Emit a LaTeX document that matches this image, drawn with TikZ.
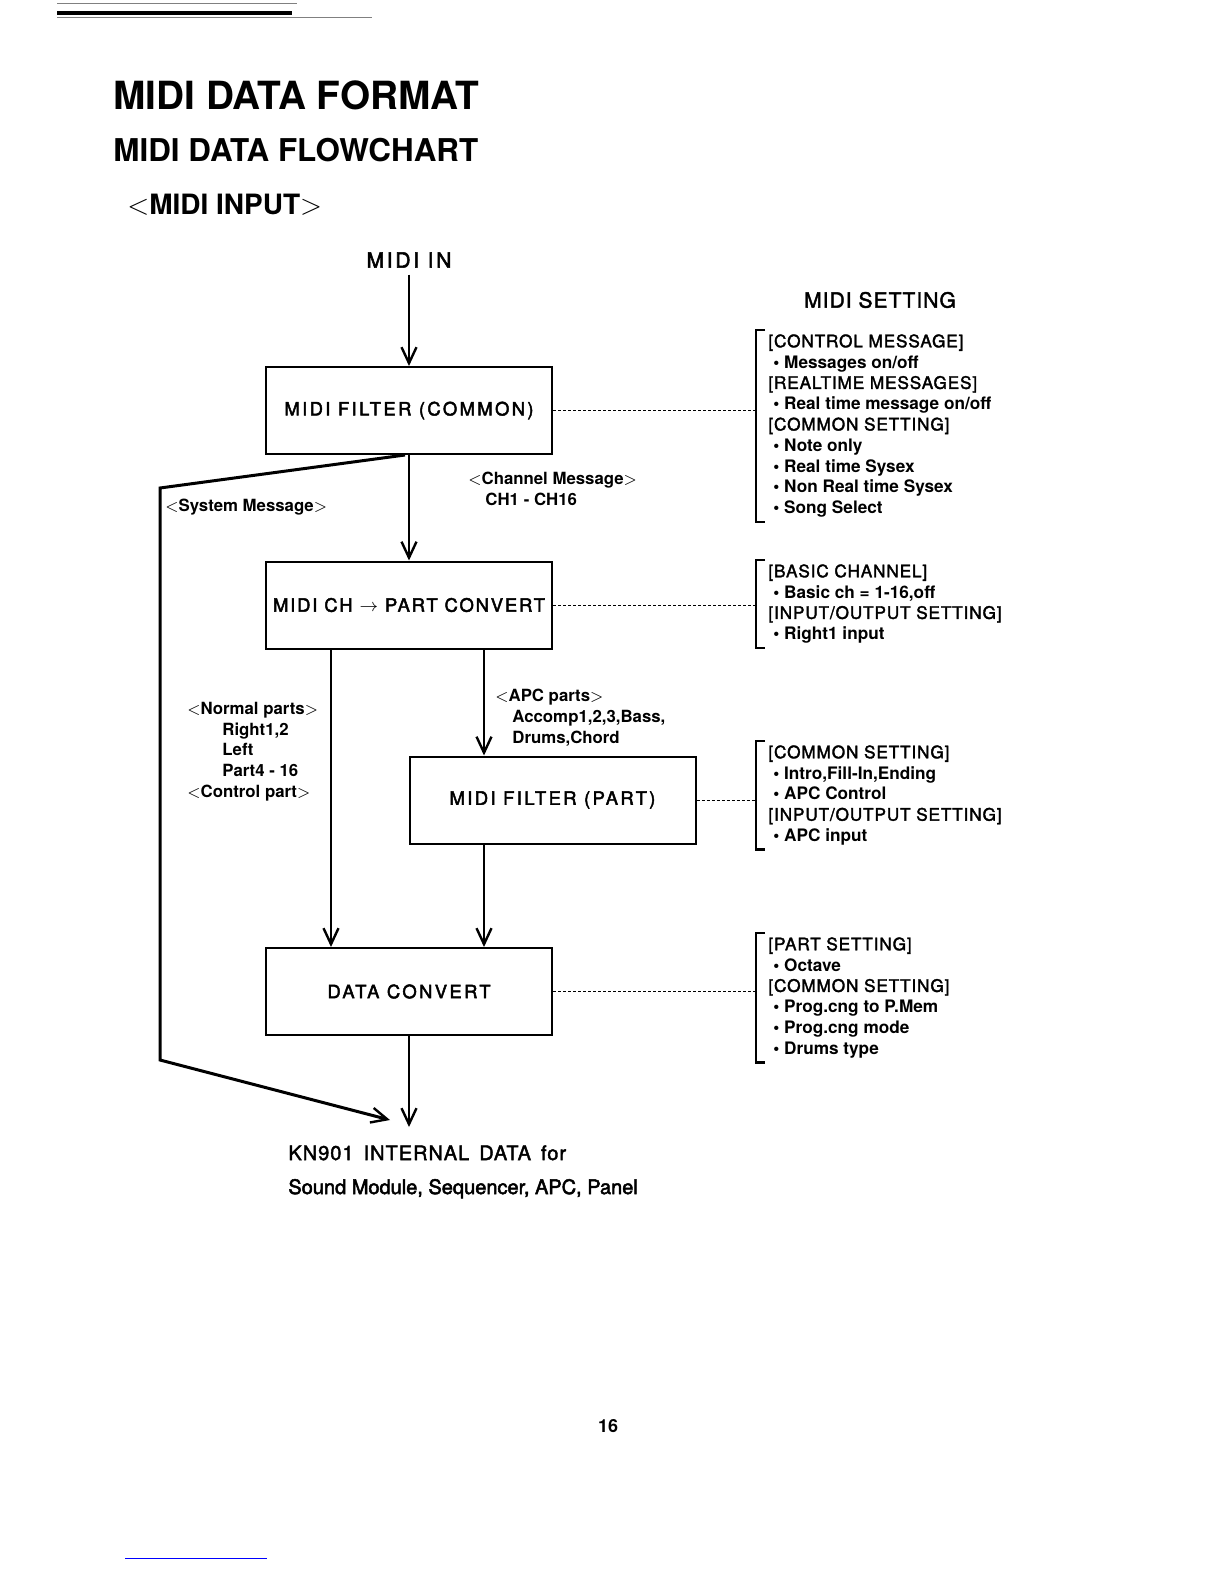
\documentclass[tikz,border=0pt]{standalone}
\usepackage{fontspec}
\setmainfont{TeX Gyre Heros}
\newfontfamily\boxfont{TeX Gyre Heros}[FakeBold=2.5, LetterSpace=13]
\newfontfamily\medfont{TeX Gyre Heros}[FakeBold=2.5]
\newfontfamily\hdfont{TeX Gyre Heros}[FakeBold=2, LetterSpace=5]
\usetikzlibrary{arrows.meta}
\newcommand{\itm}[1]{\hspace*{2.5pt}\textbf{\textbullet\ #1}}
\newcommand{\hd}[1]{{\hdfont[#1]}}

\begin{document}
\begin{tikzpicture}[x=0.5pt, y=-0.5pt,
    box/.style={draw, line width=1pt, minimum width=143pt, minimum height=43.5pt,
      inner sep=0pt, font=\boxfont\fontsize{9.2}{11}\selectfont},
    arr/.style={line width=1.3pt, -{Straight Barb[length=8pt,width=7.5pt,line width=1.2pt]}},
    dots/.style={line width=0.5pt, dash pattern=on 1.5pt off 1pt},
    brk/.style={line width=1.2pt},
    note/.style={anchor=north west, align=left, inner xsep=0pt, inner ysep=2pt,
      font=\fontsize{8.6}{10.4}\selectfont},
    lbl/.style={anchor=west, align=left, inner sep=0pt,
      font=\bfseries\fontsize{8.4}{10.4}\selectfont},
    head/.style={anchor=base west, inner sep=0pt},
  ]
  \useasboundingbox (0,0) rectangle (1224,1584);
  % page rule and titles
  \draw[line width=0.3pt, gray] (57,3) -- (297,3);
  \draw[line width=1.6pt] (57,13) -- (292,13);
  \draw[line width=0.3pt, gray] (57,17) -- (372,17);
  \node[head, font=\bfseries\fontsize{19.4}{22}\selectfont] (format) at (113,110) {MIDI DATA FORMAT};
  \node[head, font=\bfseries\fontsize{15.7}{18}\selectfont] (chart) at (113,162) {MIDI DATA FLOWCHART};
  \node[head, font=\bfseries\fontsize{14}{16}\selectfont] (input) at (127,214) {$<$MIDI INPUT$>$};

  % main boxes
  \node[box] (fcommon) at (409,410.5) {MIDI FILTER (COMMON)};
  \node[box, font=\boxfont\addfontfeatures{LetterSpace=10}\fontsize{9.2}{11}\selectfont]
    (chconv) at (409,605) {MIDI CH $\rightarrow$ PART CONVERT};
  \node[box] (fpart) at (552.5,800) {MIDI FILTER (PART)};
  \node[box] (dconv) at (409,991.5) {DATA CONVERT};
  \node[font=\boxfont\fontsize{10.5}{12}\selectfont] (midiin) at (409,260) {MIDI IN};
  \node[anchor=north west, align=left, inner sep=0pt,
    font=\medfont\fontsize{10}{17}\selectfont] (internal) at (288,1145)
    {{\hdfont KN901\enspace INTERNAL\enspace DATA\enspace for}\\Sound Module, Sequencer, APC, Panel};
  \node[font=\bfseries\fontsize{9}{11}\selectfont] (pgno) at (608,1426) {16};

  \coordinate (brx) at (756,0);
  \coordinate (nrm) at (331,0);
  \coordinate (apc) at (484,0);
  \coordinate (sysa) at (160,488);
  \coordinate (sysb) at (160,1060);
  \coordinate (sysend) at (390,1120);
  \coordinate (outend) at (405,1127);

  % data flow
  \draw[arr] (midiin) -- (fcommon);
  \draw[arr] (fcommon) -- (chconv);
  \draw[arr] (chconv.south -| nrm) -- (dconv.north -| nrm);
  \draw[arr] (chconv.south -| apc) -- (fpart.north -| apc);
  \draw[arr] (fpart.south -| apc) -- (dconv.north -| apc);
  \draw[arr] (dconv.south) -- (dconv.south |- outend);
  \draw[arr, line width=1.5pt] ([xshift=-2pt]fcommon.south) -- (sysa) -- (sysb) -- (sysend);

  \node[lbl] (sysmsg) at (165,507) {$<$System Message$>$};
  \node[lbl] (chmsg) at (468,488.5) {$<$Channel Message$>$\\\hspace*{8.5pt}CH1 - CH16};
  \node[lbl] (normal) at (187,751.5) {$<$Normal parts$>$\\\hspace*{17.5pt}Right1,2\\\hspace*{17.5pt}Left\\\hspace*{17.5pt}Part4 - 16\\$<$Control part$>$};
  \node[lbl] (apcparts) at (495,717.5) {$<$APC parts$>$\\\hspace*{8.5pt}Accomp1,2,3,Bass,\\\hspace*{8.5pt}Drums,Chord};

  % MIDI settings
  \node[font=\hdfont\fontsize{10.5}{12}\selectfont] (setting) at (880,300) {MIDI SETTING};
  \node[note] (set1) at (768,330) {\hd{CONTROL MESSAGE}\\\itm{Messages on/off}\\\hd{REALTIME MESSAGES}\\\itm{Real time message on/off}\\\hd{COMMON SETTING}\\\itm{Note only}\\\itm{Real time Sysex}\\\itm{Non Real time Sysex}\\\itm{Song Select}};
  \node[note] (set2) at (768,560) {\hd{BASIC CHANNEL}\\\itm{Basic ch = 1-16,off}\\\hd{INPUT/OUTPUT SETTING}\\\itm{Right1 input}};
  \node[note] (set3) at (768,741) {\hd{COMMON SETTING}\\\itm{Intro,Fill-In,Ending}\\\itm{APC Control}\\\hd{INPUT/OUTPUT SETTING}\\\itm{APC input}};
  \node[note] (set4) at (768,933) {\hd{PART SETTING}\\\itm{Octave}\\\hd{COMMON SETTING}\\\itm{Prog.cng to P.Mem}\\\itm{Prog.cng mode}\\\itm{Drums type}};
  \foreach \s in {set1,set2,set3,set4}
    \draw[brk] (brx |- \s.north) ++(9,0) -- (brx |- \s.north) -- (brx |- \s.south) -- ++(9,0);
  \draw[dots] (fcommon) -- (fcommon -| brx);
  \draw[dots] (chconv) -- (chconv -| brx);
  \draw[dots] (fpart) -- (fpart -| brx);
  \draw[dots] (dconv) -- (dconv -| brx);

  \draw[line width=0.5pt, blue] (125,1558) -- (267,1558);
\end{tikzpicture}
\end{document}
